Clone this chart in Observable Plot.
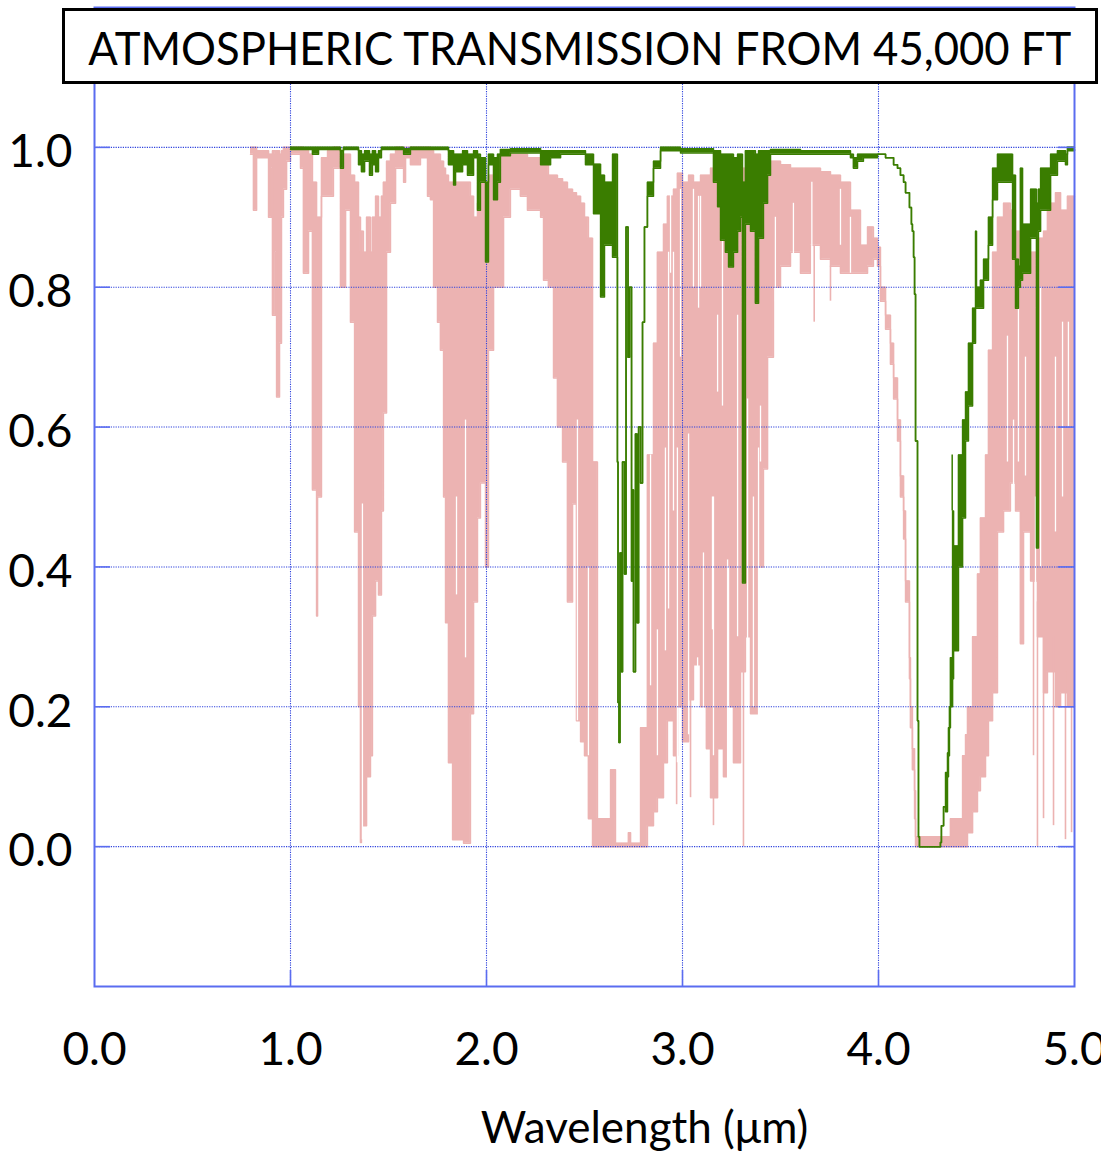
<!DOCTYPE html>
<html>
<head>
<meta charset="utf-8">
<script src="https://cdn.jsdelivr.net/npm/d3@7"></script>
<script src="https://cdn.jsdelivr.net/npm/@observablehq/plot@0.6"></script>
<style>
  html, body { margin: 0; padding: 0; background: #fff; overflow: hidden; }
  #wrap { position: relative; width: 1101px; height: 1152px; }
  #title {
    position: absolute; left: 62px; top: 8px; width: 1036px; height: 76px;
    box-sizing: border-box; border: 3px solid #000; background: #fff;
    display: flex; align-items: center; justify-content: center; overflow: hidden;
  }
  #title span {
    font-family: Lato, "Open Sans", sans-serif; font-size: 46px; color: #000;
    white-space: nowrap; display: inline-block; transform-origin: center center;
    position: relative; top: 1px;
  }
</style>
</head>
<body>
<div id="wrap">
  <div id="chart"></div>
  <div id="title"><span id="titleText">ATMOSPHERIC TRANSMISSION FROM 45,000 FT</span></div>
</div>
<script>
// ---------- axes ----------
const xTicks = [0, 1, 2, 3, 4, 5];
const xGrid = [1, 2, 3, 4];
const yTicks = [0, 0.2, 0.4, 0.6, 0.8, 1.0];
const xLabel = "Wavelength (μm)";

// ---------- pink spectrum (lower altitude), step columns: wavelength µm, lower, upper ----------
const pinkWl = [
  0.796, 0.811, 0.827, 0.888, 0.903, 0.908, 0.923, 0.929, 0.944, 0.954,
  0.964, 0.980, 1.000, 1.051, 1.066, 1.092, 1.112, 1.133, 1.138, 1.158,
  1.189, 1.219, 1.255, 1.281, 1.306, 1.327, 1.347, 1.357, 1.362, 1.372,
  1.388, 1.408, 1.418, 1.434, 1.449, 1.464, 1.474, 1.490, 1.510, 1.536,
  1.577, 1.587, 1.612, 1.663, 1.699, 1.714, 1.730, 1.750, 1.765, 1.781,
  1.791, 1.806, 1.827, 1.883, 1.918, 1.934, 1.954, 1.969, 1.995, 2.010,
  2.036, 2.071, 2.087, 2.122, 2.173, 2.209, 2.276, 2.291, 2.316, 2.342,
  2.362, 2.388, 2.413, 2.439, 2.459, 2.480, 2.500, 2.520, 2.541, 2.566,
  2.633, 2.658, 2.724, 2.735, 2.786, 2.821, 2.852, 2.872, 2.903, 2.923,
  2.954, 2.974, 3.000, 3.031, 3.056, 3.092, 3.122, 3.143, 3.179, 3.209,
  3.230, 3.260, 3.296, 3.321, 3.347, 3.383, 3.413, 3.434, 3.464, 3.500,
  3.551, 3.602, 3.653, 3.704, 3.755, 3.806, 3.857, 3.908, 3.944, 3.974,
  3.995, 4.010, 4.036, 4.061, 4.077, 4.097, 4.112, 4.128, 4.138, 4.158,
  4.163, 4.173, 4.184, 4.189, 4.367, 4.429, 4.444, 4.454, 4.480, 4.505,
  4.520, 4.546, 4.561, 4.582, 4.607, 4.638, 4.673, 4.699, 4.724, 4.740,
  4.776, 4.811, 4.842, 4.862, 4.903, 4.929, 4.964, 5.000
];
const pinkLo = [
  0.99, 0.91, 0.985, 0.90, 0.97, 0.76, 0.85, 0.643, 0.72, 0.90,
  0.94, 0.98, 0.99, 0.97, 0.82, 0.88, 0.51, 0.33, 0.50, 0.93,
  0.93, 0.97, 0.80, 0.91, 0.75, 0.45, 0.20, 0.006, 0.12, 0.03,
  0.10, 0.13, 0.33, 0.38, 0.36, 0.48, 0.62, 0.85, 0.92, 0.97,
  0.95, 0.985, 0.975, 0.985, 0.93, 0.925, 0.80, 0.75, 0.71, 0.50,
  0.32, 0.12, 0.01, 0.005, 0.19, 0.35, 0.47, 0.52, 0.40, 0.71,
  0.80, 0.80, 0.90, 0.94, 0.93, 0.91, 0.90, 0.81, 0.80, 0.67,
  0.60, 0.55, 0.35, 0.49, 0.18, 0.15, 0.13, 0.04, 0.0, 0.0,
  0.0, 0.0, 0.0, 0.0, 0.0, 0.03, 0.05, 0.07, 0.12, 0.18,
  0.13, 0.20, 0.15, 0.21, 0.26, 0.20, 0.14, 0.07, 0.14, 0.10,
  0.20, 0.12, 0.25, 0.30, 0.19, 0.40, 0.54, 0.70, 0.80, 0.83,
  0.85, 0.82, 0.86, 0.84, 0.83, 0.82, 0.82, 0.82, 0.83, 0.84,
  0.83, 0.78, 0.74, 0.69, 0.64, 0.58, 0.50, 0.44, 0.35, 0.24,
  0.17, 0.11, 0.04, 0.0, 0.0, 0.0, 0.0, 0.02, 0.05, 0.08,
  0.10, 0.13, 0.18, 0.22, 0.45, 0.48, 0.52, 0.48, 0.29, 0.45,
  0.38, 0.30, 0.22, 0.25, 0.20, 0.22, 0.20, 0.20
];
const pinkHi = [
  1.0, 1.0, 0.995, 0.99, 0.99, 0.995, 0.99, 0.995, 0.99, 0.995,
  1.0, 1.0, 1.0, 1.0, 0.995, 0.99, 0.95, 0.90, 0.90, 0.985,
  0.995, 1.0, 0.99, 0.99, 0.96, 0.95, 0.90, 0.85, 0.88, 0.85,
  0.90, 0.85, 0.90, 0.93, 0.90, 0.93, 0.95, 0.98, 0.99, 1.0,
  1.0, 1.0, 1.0, 1.0, 1.0, 0.995, 0.99, 0.99, 0.98, 0.97,
  0.96, 0.95, 0.95, 0.95, 0.93, 0.90, 0.92, 0.95, 0.93, 0.96,
  0.98, 0.99, 0.995, 0.99, 0.99, 0.985, 0.98, 0.975, 0.96, 0.96,
  0.955, 0.95, 0.94, 0.935, 0.93, 0.92, 0.90, 0.87, 0.55, 0.04,
  0.11, 0.005, 0.02, 0.005, 0.17, 0.56, 0.72, 0.85, 0.89, 0.93,
  0.94, 0.963, 0.95, 0.96, 0.95, 0.96, 0.96, 0.97, 0.97, 0.97,
  0.97, 0.97, 0.97, 0.97, 0.97, 0.975, 0.975, 0.98, 0.98, 0.975,
  0.97, 0.97, 0.97, 0.965, 0.96, 0.95, 0.91, 0.86, 0.886, 0.87,
  0.857, 0.80, 0.76, 0.72, 0.67, 0.61, 0.53, 0.48, 0.38, 0.27,
  0.20, 0.14, 0.08, 0.014, 0.04, 0.13, 0.16, 0.20, 0.30, 0.39,
  0.47, 0.56, 0.71, 0.85, 0.90, 0.92, 0.91, 0.88, 0.86, 0.84,
  0.85, 0.87, 0.88, 0.92, 0.935, 0.91, 0.93, 0.93
];
// isolated pink absorption lines: wavelength, bottom, top
const pinkLineWl  = [2.970, 3.041, 3.158, 3.311, 3.672, 3.755, 4.791, 4.811, 4.842, 4.893, 4.954, 4.985];
const pinkLineLo  = [0.06, 0.07, 0.03, 0.0, 0.75, 0.78, 0.13, 0.0, 0.04, 0.03, 0.01, 0.02];
const pinkLineTop = [0.20, 0.25, 0.15, 0.30, 0.86, 0.83, 0.45, 0.35, 0.30, 0.30, 0.25, 0.25];
// transparent windows between pink lines: wavelength, bottom, top
const gapWl = [
  1.367, 1.847, 1.893, 2.464, 2.520, 2.837, 2.872, 2.913, 2.929, 2.939,
  2.954, 2.974, 2.990, 3.031, 3.056, 3.077, 3.082, 3.092, 3.107, 3.153,
  3.158, 3.179, 3.204, 3.230, 3.235, 3.281, 3.332, 3.362, 3.388, 3.398,
  3.474, 3.566, 3.660, 3.806, 3.857, 4.658, 4.689, 4.714, 4.750, 4.801,
  4.827, 4.903, 4.939, 4.969
];
const gapLo = [
  0.01, 0.36, 0.27, 0.18, 0.13, 0.23, 0.13, 0.28, 0.34, 0.82,
  0.48, 0.12, 0.70, 0.16, 0.80, 0.05, 0.77, 0.80, 0.12, 0.31,
  0.13, 0.65, 0.63, 0.09, 0.04, 0.30, 0.27, 0.20, 0.18, 0.55,
  0.78, 0.83, 0.80, 0.86, 0.82, 0.55, 0.32, 0.55, 0.53, 0.13,
  0.40, 0.45, 0.50, 0.60
];
const gapHi = [
  0.49, 0.50, 0.61, 0.61, 0.40, 0.56, 0.31, 0.57, 0.85, 0.96,
  0.85, 0.57, 0.94, 0.59, 0.94, 0.27, 0.93, 0.93, 0.42, 0.50,
  0.50, 0.76, 0.95, 0.41, 0.40, 0.76, 0.64, 0.50, 0.57, 0.63,
  0.90, 0.92, 0.95, 0.94, 0.90, 0.73, 0.61, 0.82, 0.70, 0.50,
  0.80, 0.70, 0.75, 0.75
];

// ---------- green spectrum (45,000 ft), step columns: wavelength µm, lower, upper ----------
const greenWl = [
  1.000, 1.112, 1.143, 1.255, 1.270, 1.347, 1.362, 1.378, 1.403, 1.418,
  1.434, 1.449, 1.464, 1.577, 1.612, 1.806, 1.832, 1.842, 1.878, 1.903,
  1.934, 1.954, 1.969, 1.995, 2.010, 2.036, 2.056, 2.071, 2.122, 2.276,
  2.327, 2.378, 2.505, 2.546, 2.582, 2.602, 2.643,
  2.668, 2.671, 2.676, 2.681, 2.689, 2.694, 2.704, 2.712, 2.722, 2.730,
  2.740, 2.745, 2.750, 2.760, 2.768, 2.776, 2.786, 2.796, 2.806,
  2.821, 2.852, 2.888, 2.990, 3.158, 3.179, 3.194, 3.219, 3.235, 3.260,
  3.281, 3.296, 3.306, 3.321, 3.347, 3.372, 3.388, 3.413, 3.434, 3.449,
  3.602, 3.857, 3.872, 3.893, 3.923, 3.995, 4.036, 4.077, 4.097, 4.112,
  4.128, 4.138, 4.158, 4.168, 4.173, 4.179, 4.184, 4.189, 4.199, 4.204,
  4.209, 4.316, 4.321, 4.332, 4.342, 4.352, 4.357, 4.362, 4.367, 4.378,
  4.383, 4.408, 4.429, 4.444, 4.459, 4.480, 4.495, 4.500, 4.520, 4.536,
  4.561, 4.582, 4.607, 4.684, 4.699, 4.714, 4.724, 4.735, 4.776, 4.806,
  4.816, 4.827, 4.878, 4.913, 4.954, 4.964, 5.000
];
const greenLo = [
  0.997, 0.99, 0.997, 0.97, 0.997, 0.975, 0.965, 0.98, 0.96, 0.975,
  0.965, 0.985, 0.997, 0.99, 0.997, 0.975, 0.946, 0.965, 0.975, 0.96,
  0.985, 0.91, 0.95, 0.836, 0.975, 0.925, 0.95, 0.988, 0.992, 0.975,
  0.985, 0.99, 0.975, 0.905, 0.786, 0.86, 0.843,
  0.55, 0.206, 0.149, 0.42, 0.25, 0.55, 0.39, 0.886, 0.70, 0.80,
  0.38, 0.51, 0.25, 0.59, 0.32, 0.60, 0.52, 0.75, 0.886,
  0.93, 0.97, 0.995, 0.992, 0.95, 0.915, 0.867, 0.85, 0.829, 0.85,
  0.88, 0.90, 0.377, 0.89, 0.88, 0.777, 0.87, 0.92, 0.96, 0.99,
  0.99, 0.985, 0.97, 0.98, 0.985, 0.99, 0.985, 0.975, 0.97, 0.96,
  0.95, 0.935, 0.914, 0.89, 0.88, 0.843, 0.79, 0.58, 0.18, 0.014,
  0.0, 0.006, 0.03, 0.057, 0.05, 0.10, 0.13, 0.17, 0.20, 0.24,
  0.28, 0.40, 0.47, 0.58, 0.63, 0.72, 0.77, 0.77, 0.77, 0.81,
  0.86, 0.925, 0.95, 0.84, 0.77, 0.80, 0.81, 0.82, 0.87, 0.427,
  0.88, 0.91, 0.96, 0.98, 0.975, 0.995, 0.997
];
const greenHi = [
  1.0, 1.0, 1.0, 0.995, 1.0, 0.995, 0.99, 0.995, 0.99, 0.995,
  0.99, 0.995, 1.0, 0.998, 1.0, 0.995, 0.99, 0.99, 0.995, 0.99,
  0.995, 0.99, 0.985, 0.95, 0.99, 0.985, 0.99, 0.997, 0.998, 0.995,
  0.995, 0.995, 0.99, 0.976, 0.96, 0.95, 0.99,
  0.55, 0.206, 0.149, 0.42, 0.25, 0.55, 0.39, 0.886, 0.70, 0.80,
  0.38, 0.51, 0.25, 0.59, 0.32, 0.60, 0.52, 0.75, 0.886,
  0.95, 0.98, 1.0, 0.998, 0.995, 0.995, 0.99, 0.99, 0.99, 0.985,
  0.99, 0.99, 0.95, 0.995, 0.995, 0.99, 0.995, 0.995, 0.995, 0.997,
  0.995, 0.99, 0.985, 0.99, 0.99, 0.99, 0.985, 0.975, 0.97, 0.96,
  0.95, 0.935, 0.914, 0.89, 0.88, 0.843, 0.79, 0.58, 0.18, 0.014,
  0.0, 0.006, 0.03, 0.057, 0.106, 0.134, 0.17, 0.20, 0.27, 0.48,
  0.43, 0.56, 0.61, 0.65, 0.72, 0.77, 0.88, 0.80, 0.81, 0.84,
  0.90, 0.97, 0.99, 0.96, 0.84, 0.83, 0.97, 0.89, 0.94, 0.92,
  0.94, 0.97, 0.99, 0.995, 0.99, 1.0, 1.0
];
const greenLineWl = [4.376];
const greenLineLo = [0.48];
const greenLineTop = [0.56];

// ---------- build tables ----------
const pink = pinkWl.map((w, i) => ({wl: w, lo: pinkLo[i], hi: pinkHi[i]}));
const green = greenWl.map((w, i) => ({wl: w, lo: greenLo[i], hi: greenHi[i]}));
const pinkLines = pinkLineWl.map((w, i) => ({wl: w, lo: pinkLineLo[i], hi: pinkLineTop[i]}));
const gaps = gapWl.map((w, i) => ({wl: w, lo: gapLo[i], hi: gapHi[i]}));
const greenLines = greenLineWl.map((w, i) => ({wl: w, lo: greenLineLo[i], hi: greenLineTop[i]}));

const PINK = "#ecb3b2";
const GREEN = "#3a7d00";
const FRAME = "#5a6cf0";
const GRID = "#2f43dd";
const fmt = d3.format(".1f");
const yMin = -0.2, xMin = 0, xMax = 5;

// short inward tick marks on the frame (zero-length rules stretched 16px by an inset)
const innerTicks = [
  Plot.ruleX(xGrid, {x: d => d, y1: () => yMin, y2: () => yMin, insetBottom: 16, stroke: FRAME, strokeWidth: 1.6}),
  Plot.ruleY(yTicks, {y: d => d, x1: () => xMin, x2: () => xMin, insetRight: -16, stroke: FRAME, strokeWidth: 1.6}),
  Plot.ruleY(yTicks, {y: d => d, x1: () => xMax, x2: () => xMax, insetRight: 16, stroke: FRAME, strokeWidth: 1.6})
];

const chart = Plot.plot({
  width: 1101,
  height: 1152,
  marginLeft: 94,
  marginRight: 27,
  marginTop: 7,
  marginBottom: 166,
  x: {domain: [xMin, xMax]},
  y: {domain: [yMin, 1.2]},
  style: {fontFamily: "Lato, 'Open Sans', sans-serif", fontSize: "46px", color: "#000", background: "#fff", overflow: "hidden"},
  marks: [
    Plot.areaY(pink, {x: "wl", y1: "lo", y2: "hi", curve: "step-after", fill: PINK}),
    Plot.line(pink, {x: "wl", y: "hi", curve: "step-after", stroke: PINK, strokeWidth: 1.5}),
    Plot.line(pink, {x: "wl", y: "lo", curve: "step-after", stroke: PINK, strokeWidth: 1.5}),
    Plot.ruleX(pinkLines, {x: "wl", y1: "lo", y2: "hi", stroke: PINK, strokeWidth: 1.6}),
    Plot.ruleX(gaps, {x: "wl", y1: "lo", y2: "hi", stroke: "#fff", strokeWidth: 1.3}),
    Plot.gridX(xGrid, {stroke: GRID, strokeOpacity: 1, strokeWidth: 1.1, strokeDasharray: "1.2,1.2"}),
    Plot.gridY(yTicks, {stroke: GRID, strokeOpacity: 1, strokeWidth: 1.1, strokeDasharray: "1.2,1.2"}),
    Plot.areaY(green, {x: "wl", y1: "lo", y2: "hi", curve: "step-after", fill: GREEN}),
    Plot.line(green, {x: "wl", y: "hi", curve: "step-after", stroke: GREEN, strokeWidth: 1.5}),
    Plot.line(green, {x: "wl", y: "lo", curve: "step-after", stroke: GREEN, strokeWidth: 1.5}),
    Plot.ruleX(greenLines, {x: "wl", y1: "lo", y2: "hi", stroke: GREEN, strokeWidth: 1.5}),
    ...innerTicks,
    Plot.axisX(xTicks, {anchor: "bottom", tickSize: 0, tickPadding: 46, tickFormat: fmt, label: null, fontSize: 46}),
    Plot.axisY(yTicks, {anchor: "left", tickSize: 0, tickPadding: 22, tickFormat: fmt, label: null, fontSize: 46, dy: 5}),
    Plot.frame({stroke: FRAME, strokeWidth: 2}),
    Plot.text([xLabel], {frameAnchor: "bottom", dx: 60, dy: 156, fontSize: 44, text: d => d})
  ]
});
document.getElementById("chart").appendChild(chart);

// fit the title to the width of the reference lettering
const t = document.getElementById("titleText");
const w = t.getBoundingClientRect().width;
t.style.transform = `scaleX(${983 / w})`;
</script>
</body>
</html>
